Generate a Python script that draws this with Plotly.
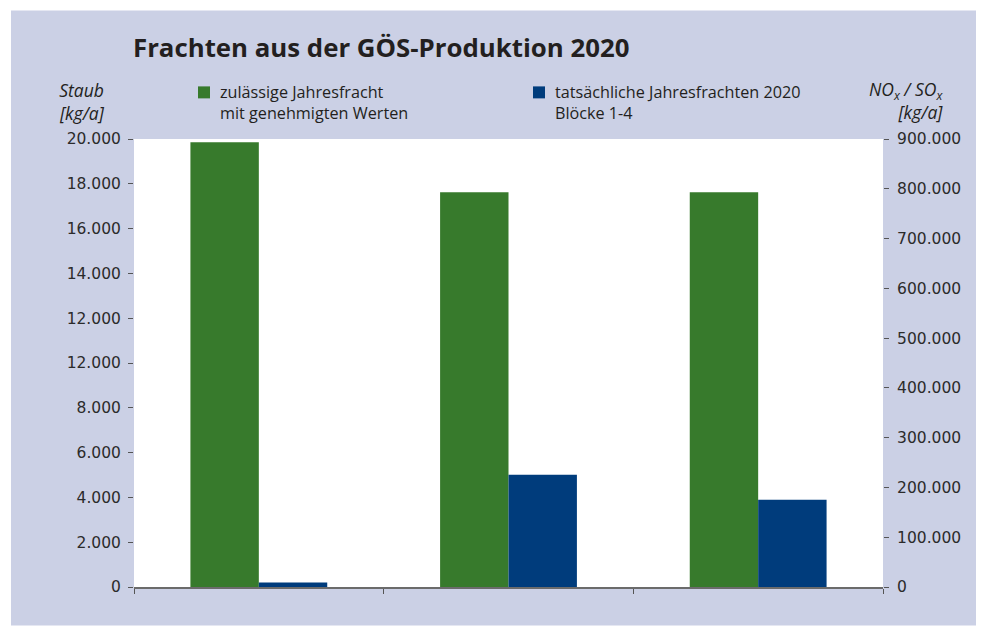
import plotly.graph_objects as go

# ---- data ----
categories = ["Staub", "NOx", "SOx"]
permitted_staub = [19850]            # kg/a, left axis
actual_staub = [200]                 # kg/a, left axis
permitted_gas = [793000, 793000]     # NOx, SOx kg/a, right axis
actual_gas = [225500, 175500]        # NOx, SOx kg/a, right axis

left_tickvals = [0, 2000, 4000, 6000, 8000, 10000, 12000, 14000, 16000, 18000, 20000]
left_ticktext = ["0", "2.000", "4.000", "6.000", "8.000", "12.000", "12.000",
                 "14.000", "16.000", "18.000", "20.000"]
right_tickvals = [0, 100000, 200000, 300000, 400000, 500000, 600000, 700000, 800000, 900000]
right_ticktext = ["0", "100.000", "200.000", "300.000", "400.000", "500.000",
                  "600.000", "700.000", "800.000", "900.000"]

title_text = "Frachten aus der GÖS-Produktion 2020"
legend_labels = ["zulässige Jahresfracht<br>mit genehmigten Werten",
                 "tatsächliche Jahresfrachten 2020<br>Blöcke 1-4"]

GREEN = "#377A2C"
BLUE = "#003C7C"
BG = "#CBD0E5"
TXT = "#231F20"

W, H = 981, 626
L, R, T, B = 134, 883, 138.7, 587.5

def px(x):
    return (x - L) / (R - L)

def py(y):
    return (B - y) / (B - T)

fig = go.Figure()
fig.add_trace(go.Bar(x=categories[:1], y=permitted_staub, marker_color=GREEN,
                     name="zulässige Jahresfracht", yaxis="y", showlegend=False))
fig.add_trace(go.Bar(x=categories[:1], y=actual_staub, marker_color=BLUE,
                     name="tatsächliche Jahresfrachten 2020", yaxis="y", showlegend=False))
fig.add_trace(go.Bar(x=categories[1:], y=permitted_gas, marker_color=GREEN,
                     name="zulässige Jahresfracht", yaxis="y2", showlegend=False))
fig.add_trace(go.Bar(x=categories[1:], y=actual_gas, marker_color=BLUE,
                     name="tatsächliche Jahresfrachten 2020", yaxis="y2", showlegend=False))
for t in fig.data:
    t.marker.line.width = 0

tickfont = dict(family="DejaVu Sans", size=15.5, color="#2b2b2b")

fig.update_layout(
    width=W, height=H,
    margin=dict(l=L, r=W - R, t=T, b=H - B, pad=0),
    paper_bgcolor="white",
    plot_bgcolor="white",
    barmode="group",
    bargap=0.452,
    bargroupgap=0,
    xaxis=dict(type="category", categoryorder="array", categoryarray=categories,
               range=[-0.5, 2.5], showticklabels=False, showgrid=False,
               ticks="outside", tickson="boundaries", ticklen=5, tickwidth=1.2,
               tickcolor="#555555", showline=True, linecolor="#6b6b6b",
               linewidth=1.6, zeroline=False),
    xaxis2=dict(overlaying="x", anchor="y", side="bottom", range=[-0.5, 2.5],
                tickvals=[-0.5, 0.5, 1.5, 2.5], showticklabels=False,
                ticks="inside", ticklen=5, tickwidth=1.2, tickcolor="#555555",
                showgrid=False, zeroline=False, showline=False),
    yaxis=dict(range=[0, 20000], tickvals=left_tickvals, ticktext=left_ticktext,
               ticks="outside", ticklen=5, tickwidth=1.2, tickcolor="#555555",
               showgrid=False, zeroline=False, showline=False,
               tickfont=tickfont, ticklabelstandoff=4),
    yaxis2=dict(range=[0, 900000], tickvals=right_tickvals, ticktext=right_ticktext,
                overlaying="y", side="right", anchor="x",
                ticks="outside", ticklen=5, tickwidth=1.2, tickcolor="#555555",
                showgrid=False, zeroline=False, showline=False,
                tickfont=tickfont, ticklabelstandoff=5),
    showlegend=False,
)

shapes = [
    dict(type="rect", xref="paper", yref="paper", layer="below",
         x0=px(11), x1=px(976), y0=py(626), y1=py(10),
         fillcolor=BG, line=dict(width=0)),
    dict(type="rect", xref="paper", yref="paper", layer="below",
         x0=0, x1=1, y0=0, y1=1, fillcolor="white", line=dict(width=0)),
    dict(type="rect", xref="paper", yref="paper",
         x0=px(198), x1=px(210), y0=py(98), y1=py(86),
         fillcolor=GREEN, line=dict(width=0)),
    dict(type="rect", xref="paper", yref="paper",
         x0=px(533), x1=px(545), y0=py(98), y1=py(86),
         fillcolor=BLUE, line=dict(width=0)),
]
fig.update_layout(shapes=shapes)

ann = [
    dict(text="<b>" + title_text + "</b>", x=px(131), y=py(47), xref="paper", yref="paper",
         xanchor="left", yanchor="middle", showarrow=False,
         font=dict(family="Open Sans", size=25.8, color=TXT)),
    dict(text=legend_labels[0], x=px(218), y=py(102), xref="paper", yref="paper",
         xanchor="left", yanchor="middle", align="left", showarrow=False,
         font=dict(family="Open Sans", size=16.2, color=TXT)),
    dict(text=legend_labels[1], x=px(553), y=py(102), xref="paper", yref="paper",
         xanchor="left", yanchor="middle", align="left", showarrow=False,
         font=dict(family="Open Sans", size=16.2, color=TXT)),
    dict(text="<i>Staub<br>[kg/a]</i>", x=px(107), y=py(101), xref="paper", yref="paper",
         xanchor="right", yanchor="middle", align="right", showarrow=False,
         font=dict(family="Open Sans", size=17.5, color=TXT)),
    dict(text="<i>NO<sub>x</sub> / SO<sub>x</sub><br>[kg/a]</i>", x=px(946), y=py(100),
         xref="paper", yref="paper", xanchor="right", yanchor="middle", align="right",
         showarrow=False, font=dict(family="Open Sans", size=17.5, color=TXT)),
]
fig.update_layout(annotations=ann)

fig.write_html("out.html")
